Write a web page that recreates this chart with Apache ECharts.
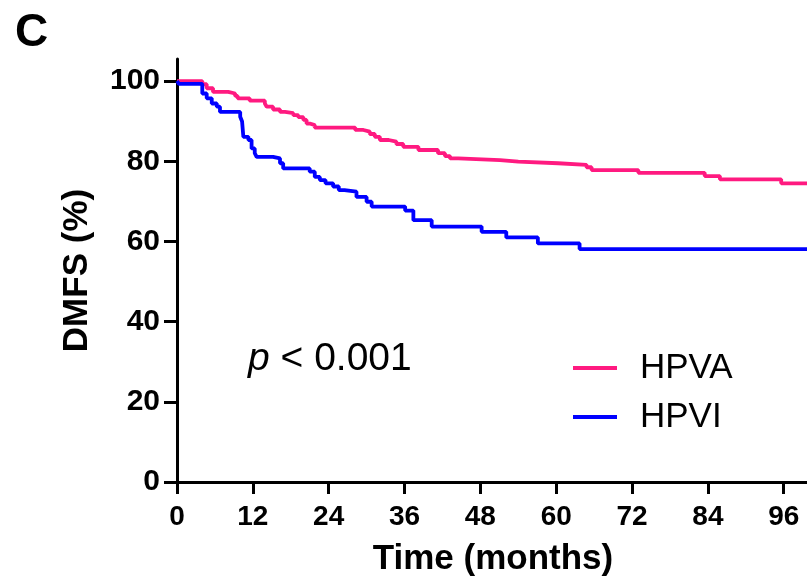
<!DOCTYPE html>
<html>
<head>
<meta charset="utf-8">
<script src="https://cdn.jsdelivr.net/npm/echarts@6/dist/echarts.min.js"></script>
<style>html,body{margin:0;padding:0;background:#fff;}#c{width:807px;height:582px;}</style>
</head>
<body>
<div id="c"></div>
<script>
var panelLabel = 'C';
var xTickValues = [0, 12, 24, 36, 48, 60, 72, 84, 96];
var yTickValues = [0, 20, 40, 60, 80, 100];
var xTitle = 'Time (months)';
var yTitle = 'DMFS (%)';
var seriesNames = ['HPVA', 'HPVI'];
var pText = ' < 0.001';

var hpvaMonths = [0, 4.0, 4.7, 5.7, 8.1, 9.2, 9.6, 11.5, 13.9, 14.2, 15.2, 16.3, 17.1, 18.4, 19.2, 20.0, 20.5, 21.0, 21.8, 28.2, 29.5, 30.5, 31.3, 32.1, 33.5, 34.7, 35.8, 38.2, 41.3, 42.4, 43.2, 44.5, 51.1, 54.0, 60.3, 64.8, 65.6, 73.0, 83.5, 85.9, 95.6, 100];
var hpvaPct    = [100, 99.2, 98.2, 97.3, 96.9, 96.3, 95.7, 95.1, 94.4, 93.6, 92.9, 92.3, 92.0, 91.5, 91.0, 90.3, 89.4, 89.0, 88.4, 87.8, 87.4, 86.8, 86.1, 85.3, 84.9, 84.3, 83.6, 82.8, 82.0, 81.3, 80.7, 80.3, 79.9, 79.5, 79.1, 78.5, 77.8, 77.1, 76.3, 75.5, 74.5, 74.5];

var hpviMonths = [0, 0.3, 4.0, 4.7, 5.5, 6.3, 6.8, 10.0, 10.3, 10.5, 11.3, 11.8, 12.3, 12.6, 15.2, 16.3, 16.8, 21.0, 21.8, 22.6, 23.5, 24.7, 25.6, 26.5, 28.4, 30.0, 30.8, 36.1, 37.4, 40.3, 48.2, 52.1, 57.1, 63.7, 100];
var hpviPct    = [100, 99.3, 96.9, 95.7, 94.4, 93.6, 92.3, 91.1, 89.9, 86.1, 85.3, 83.2, 82.0, 81.1, 80.7, 79.5, 78.2, 77.4, 76.1, 75.3, 74.5, 73.7, 72.8, 72.4, 71.1, 69.9, 68.7, 67.7, 65.3, 63.7, 62.4, 61.0, 59.5, 58.1, 58.1];

var colors = ['#FF1A80', '#0000FF'];
var FF = '"Liberation Sans", Arial, Helvetica, sans-serif';

function zip(a, b) { return a.map(function (v, i) { return [v, b[i]]; }); }

var chart = echarts.init(document.getElementById('c'), null, {renderer: 'canvas'});
chart.setOption({
  animation: false,
  backgroundColor: '#fff',
  title: {
    text: panelLabel, left: 10, top: 5,
    textStyle: {fontFamily: FF, fontSize: 46, fontWeight: 'bold', color: '#000'}
  },
  grid: {left: 177, top: 59, bottom: 100, right: -2, containLabel: false, outerBoundsMode: 'none'},
  legend: {
    orient: 'vertical', left: 568, top: 345, itemWidth: 44, itemHeight: 4, itemGap: 13,
    icon: 'rect',
    data: seriesNames,
    textStyle: {fontFamily: FF, fontSize: 35, color: '#000', padding: [0, 0, 0, 18], lineHeight: 36}
  },
  xAxis: {
    type: 'value', min: 0, max: 100,
    name: xTitle, nameLocation: 'middle', nameGap: 60,
    nameTextStyle: {fontFamily: FF, fontSize: 35, fontWeight: 'bold', color: '#000'},
    axisLine: {show: true, lineStyle: {color: '#000', width: 3}},
    axisTick: {show: true, inside: false, length: 12, customValues: xTickValues, lineStyle: {color: '#000', width: 3}},
    axisLabel: {customValues: xTickValues, margin: 21, fontFamily: FF, fontSize: 28, fontWeight: 'bold', color: '#000'},
    splitLine: {show: false}
  },
  yAxis: {
    type: 'value', min: 0, max: 105.5,
    name: yTitle, nameLocation: 'middle', nameGap: 82,
    nameTextStyle: {fontFamily: FF, fontSize: 35, fontWeight: 'bold', color: '#000'},
    axisLine: {show: true, lineStyle: {color: '#000', width: 3}},
    axisTick: {show: true, inside: false, length: 13, customValues: yTickValues, lineStyle: {color: '#000', width: 3}},
    axisLabel: {customValues: yTickValues, margin: 17, fontFamily: FF, fontSize: 30, fontWeight: 'bold', color: '#000'},
    splitLine: {show: false}
  },
  graphic: [{
    type: 'text', left: 248, top: 340,
    style: {
      text: '{i|p}' + pText,
      font: '39px ' + FF,
      fill: '#000',
      rich: {i: {fontStyle: 'italic', fontSize: 39, fontFamily: FF, fill: '#000'}}
    }
  }],
  series: [
    {name: seriesNames[0], type: 'line', step: 'end', data: zip(hpvaMonths, hpvaPct), showSymbol: false,
     color: colors[0], lineStyle: {color: colors[0], width: 3.8}, z: 3},
    {name: seriesNames[1], type: 'line', step: 'end', data: zip(hpviMonths, hpviPct), showSymbol: false,
     color: colors[1], lineStyle: {color: colors[1], width: 3.8}, z: 4}
  ]
});
</script>
</body>
</html>
